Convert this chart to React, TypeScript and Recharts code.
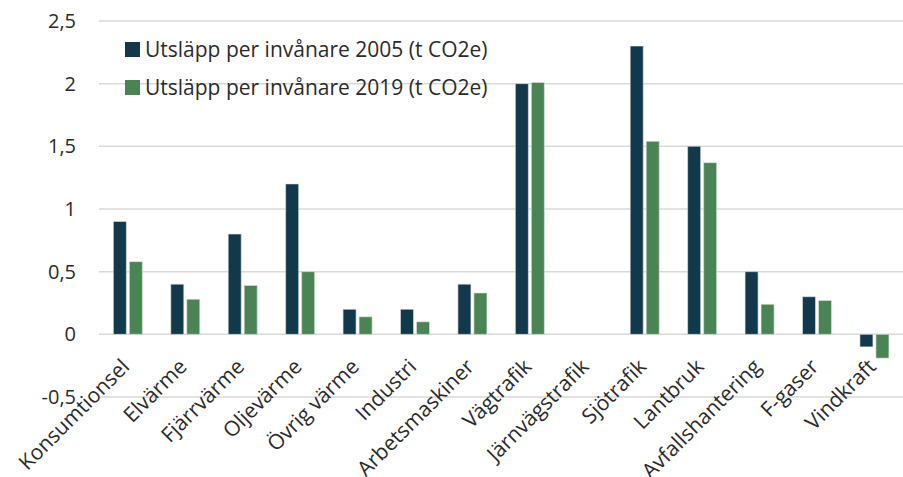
import React from "react"
import {
  BarChart,
  Bar,
  XAxis,
  YAxis,
  CartesianGrid,
} from "recharts"

const categories = [
  "Konsumtionsel",
  "Elvärme",
  "Fjärrvärme",
  "Oljevärme",
  "Övrig värme",
  "Industri",
  "Arbetsmaskiner",
  "Vägtrafik",
  "Järnvägstrafik",
  "Sjötrafik",
  "Lantbruk",
  "Avfallshantering",
  "F-gaser",
  "Vindkraft",
]

const values2005 = [0.9, 0.4, 0.8, 1.2, 0.2, 0.2, 0.4, 2.0, 0, 2.3, 1.5, 0.5, 0.3, -0.1]
const values2019 = [0.58, 0.28, 0.39, 0.5, 0.14, 0.1, 0.33, 2.01, 0, 1.54, 1.37, 0.24, 0.27, -0.19]

const yTicks = [-0.5, 0, 0.5, 1, 1.5, 2, 2.5]

const series = [
  { key: "y2005", name: "Utsläpp per invånare 2005 (t CO2e)", color: "#12384b" },
  { key: "y2019", name: "Utsläpp per invånare 2019 (t CO2e)", color: "#4a8455" },
]

const data = categories.map((name, i) => ({
  name,
  y2005: values2005[i],
  y2019: values2019[i],
}))

const FONT = "'Open Sans', sans-serif"
const TEXT = "#2b2b2b"

// labels sit just under the zero line, not at the plot bottom
function CategoryTick(props: any) {
  const { x, y, payload } = props
  return (
    <g transform={`translate(${x + 3},${y - 29})`}>
      <text
        transform="rotate(-45)"
        textAnchor="end"
        fill={TEXT}
        fontSize={21}
        fontFamily={FONT}
      >
        {payload.value}
      </text>
    </g>
  )
}

// legend drawn as an overlay so it does not shrink the plot area
function LegendBox() {
  return (
    <div
      style={{
        position: "absolute",
        left: 125,
        top: 30,
        fontFamily: FONT,
        fontSize: 21,
        color: TEXT,
      }}
    >
      {series.map((s) => (
        <div
          key={s.key}
          style={{ display: "flex", alignItems: "center", height: 38, whiteSpace: "nowrap" }}
        >
          <span
            style={{
              width: 15,
              height: 15,
              background: s.color,
              marginRight: 5,
              display: "inline-block",
            }}
          />
          {s.name}
        </div>
      ))}
    </div>
  )
}

export default function App() {
  return (
    <div style={{ position: "absolute", left: 0, top: 0, width: 903, height: 477, background: "#fff" }}>
      <BarChart
        width={903}
        height={477}
        data={data}
        margin={{ top: 21, right: 0, left: 0, bottom: 0 }}
        barCategoryGap="25%"
        barGap={3}
      >
        <CartesianGrid
          vertical={false}
          stroke="#d9d9d9"
          strokeWidth={1.5}
        />
        <XAxis
          dataKey="name"
          axisLine={false}
          tickLine={false}
          tickSize={0}
          tickMargin={0}
          interval={0}
          height={80}
          tick={<CategoryTick />}
        />
        <YAxis
          width={99}
          domain={[-0.5, 2.5]}
          ticks={yTicks}
          axisLine={false}
          tickLine={false}
          tickSize={0}
          tickMargin={23}
          tick={{ fill: TEXT, fontSize: 20, fontFamily: FONT }}
          tickFormatter={(v) => String(v).replace(".", ",")}
        />
        {series.map((s) => (
          <Bar
            key={s.key}
            dataKey={s.key}
            name={s.name}
            fill={s.color}
            stroke="#dfe6e3"
            strokeWidth={0.6}
            isAnimationActive={false}
          />
        ))}
      </BarChart>
      <LegendBox />
    </div>
  )
}
